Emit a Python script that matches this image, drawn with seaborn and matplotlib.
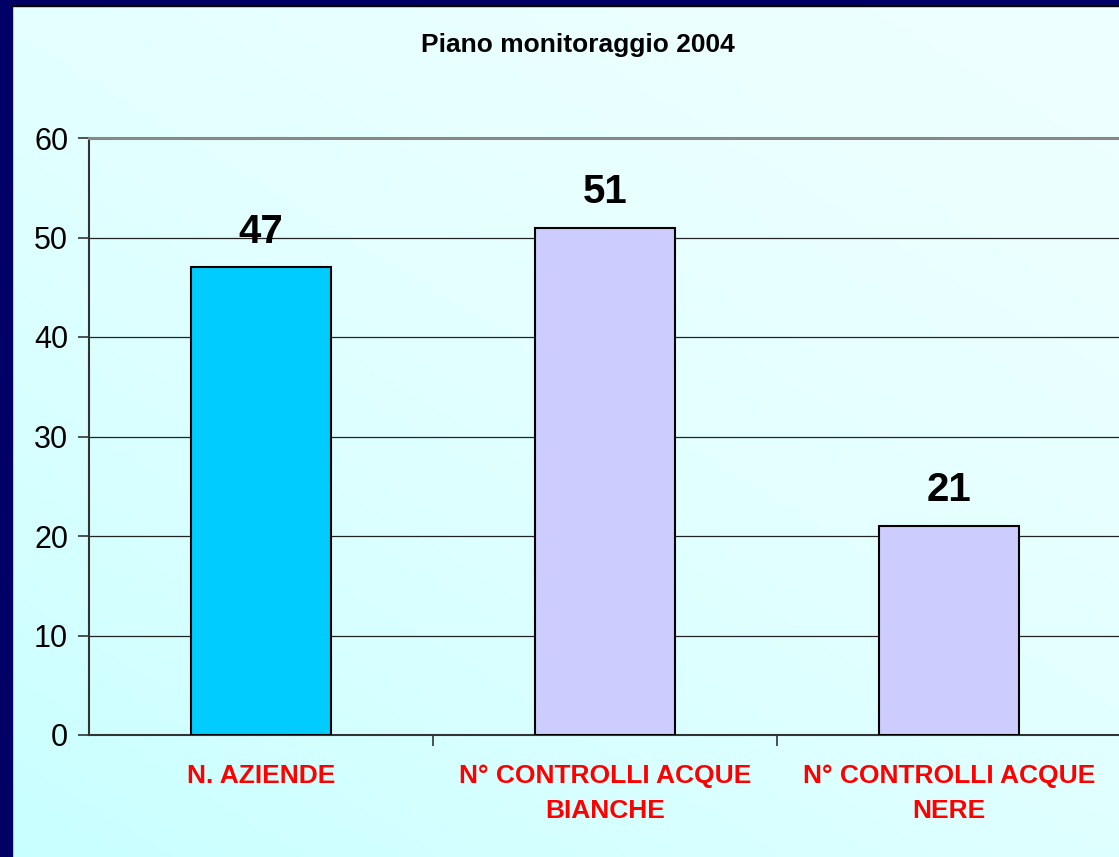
import matplotlib
matplotlib.use("Agg")
import matplotlib.pyplot as plt
from matplotlib.patches import Rectangle
from matplotlib.ticker import FixedLocator
import numpy as np
import pandas as pd
import seaborn as sns


TITLE = "Piano monitoraggio 2004"
CATEGORIES = [
    "N. AZIENDE",
    "N° CONTROLLI ACQUE\nBIANCHE",
    "N° CONTROLLI ACQUE\nNERE",
]
VALUES = [47, 51, 21]
BAR_COLORS = ["#00CCFF", "#CCCCFF", "#CCCCFF"]
Y_TICKS = [0, 10, 20, 30, 40, 50, 60]

W, H, DPI = 1119, 857, 100

plt.rcParams["font.family"] = ["Liberation Sans", "DejaVu Sans"]

df = pd.DataFrame({"category": CATEGORIES, "value": VALUES})

fig = plt.figure(figsize=(W / DPI, H / DPI), dpi=DPI)

# slide background: light cyan, more saturated toward bottom-left
bg = fig.add_axes([0, 0, 1, 1], zorder=-10)
gx, gy = np.meshgrid(np.linspace(0, 1, 200), np.linspace(0, 1, 200))
t = np.clip(((1 - gx) * 0.8 + gy * 1.0) / 1.8, 0, 1) ** 1.6
light = np.array([0xEE, 0xFF, 0xFF]) / 255
deep = np.array([0xC8, 0xFF, 0xFF]) / 255
img = light[None, None, :] * (1 - t[..., None]) + deep[None, None, :] * t[..., None]
bg.imshow(img, extent=[0, 1, 0, 1], aspect="auto", origin="upper")
bg.set_axis_off()

# navy frame on the left and top edges
fig.patches.append(Rectangle((0, 0), 12 / W, 1, transform=fig.transFigure,
                             color="#000066", zorder=5))
fig.patches.append(Rectangle((0, 1 - 5 / H), 1, 5 / H, transform=fig.transFigure,
                             color="#000066", zorder=5))
fig.patches.append(Rectangle((12 / W, 1 - 6 / H), 1, 1.2 / H, transform=fig.transFigure,
                             color="#000000", zorder=5))

ax = fig.add_axes([89 / W, 1 - 735 / H, 1032 / W, 597 / H])
ax.patch.set_alpha(0)

sns.barplot(data=df, x="category", y="value", hue="category",
            palette=BAR_COLORS, width=0.407, edgecolor="black",
            linewidth=1.5, saturation=1, legend=False, ax=ax, zorder=3)

for container in ax.containers:
    ax.bar_label(container, fmt="%d", padding=12, fontsize=29,
                 fontweight="bold", color="black")

ax.set_xlim(-0.5, 2.5)
ax.set_ylim(0, 60)
ax.set_yticks(Y_TICKS)
ax.yaxis.grid(True, color="#222222", linewidth=0.9, zorder=0)
ax.set_axisbelow(True)

ax.set_xlabel("")
ax.set_ylabel("")
ax.tick_params(axis="y", labelsize=22, length=8, width=1.2,
               color="#333333", pad=7)
ax.tick_params(axis="x", which="major", length=0, pad=21)
ax.xaxis.set_minor_locator(FixedLocator([0.5, 1.5]))
ax.tick_params(axis="x", which="minor", length=8, width=1.2, color="#333333")
for lbl in ax.get_xticklabels():
    lbl.set_fontsize(19)
    lbl.set_fontweight("bold")
    lbl.set_color("#FF0000")
    lbl.set_linespacing(1.55)

for side in ["left", "bottom"]:
    ax.spines[side].set_color("#333333")
    ax.spines[side].set_linewidth(1.5)
ax.spines["right"].set_visible(False)
ax.spines["top"].set_color("#888888")
ax.spines["top"].set_linewidth(2.2)

fig.text(578 / W, 1 - 45 / H, TITLE, ha="center", va="center",
         fontsize=19, fontweight="bold", color="black")

fig.savefig("out.png", dpi=DPI)
